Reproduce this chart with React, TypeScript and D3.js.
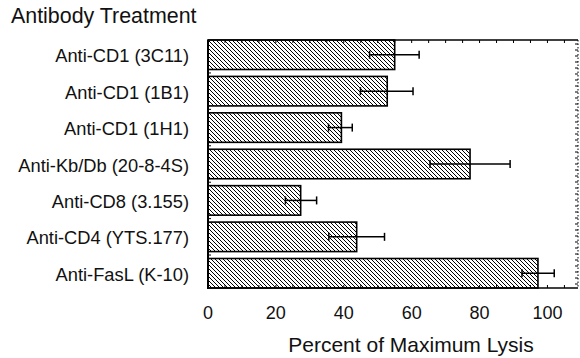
import React from "react";
import * as d3 from "d3";

const treatments = [
  "Anti-CD1 (3C11)",
  "Anti-CD1 (1B1)",
  "Anti-CD1 (1H1)",
  "Anti-Kb/Db (20-8-4S)",
  "Anti-CD8 (3.155)",
  "Anti-CD4 (YTS.177)",
  "Anti-FasL (K-10)",
];
const lysis = [55, 52.8, 39.3, 77.2, 27.3, 43.8, 97.2];
const errLow = [47.6, 44.9, 35.5, 65.4, 22.8, 35.6, 92.5];
const errHigh = [62.2, 60.4, 42.5, 89, 32, 52, 102];
const tickValues = [0, 20, 40, 60, 80, 100];

const W = 580;
const H = 358;
const left = 208;
const right = 578;
const top = 40;
const bottom = 288;
const font = "Arial, 'Liberation Sans', Helvetica, sans-serif";

export default function App() {
  const x = d3.scaleLinear().domain([0, 109]).range([left, right]);
  const y = d3.scaleBand<string>()
    .domain(treatments)
    .range([top, bottom])
    .paddingInner(0.19)
    .paddingOuter(0);
  const minor = d3.range(0, 110, 5);
  const rightTicks = d3.range(top + 4, bottom, 6);
  const bw = y.bandwidth();
  // separators between categories on the left axis
  const gaps = treatments.slice(1).map(t => y(t)! - (y.step() - bw) / 2);

  return (
    <svg width={W} height={H} style={{position: "absolute", left: 0, top: 0}}
      fontFamily={font}>
      <defs>
        <pattern id="hatch" width={4} height={4} patternUnits="userSpaceOnUse">
          <path d="M-1,-1 L5,5 M-1,3 L1,5 M3,-1 L5,1" stroke="#000" strokeWidth={1}/>
        </pattern>
      </defs>
      <rect width={W} height={H} fill="#fff"/>

      <text x={11} y={22.5} fontSize={21.4} fill="#111">Antibody Treatment</text>

      {/* frame */}
      <line x1={left} x2={left} y1={top} y2={bottom + 1} stroke="#000" strokeWidth={2}/>
      <line x1={left} x2={right} y1={top} y2={top} stroke="#000" strokeWidth={1.3}/>
      <line x1={left} x2={right} y1={bottom} y2={bottom} stroke="#000" strokeWidth={1.5}/>
      <line x1={right} x2={right} y1={top} y2={bottom} stroke="#000" strokeWidth={1}
        strokeDasharray="1.5,2"/>

      {/* ticks, pointing inward */}
      {minor.map(v => (
        <g key={v}>
          <line x1={x(v)} x2={x(v)} y1={top} y2={top + 3} stroke="#000" strokeWidth={1}/>
          <line x1={x(v)} x2={x(v)} y1={bottom} y2={bottom - 3} stroke="#000" strokeWidth={1}/>
        </g>
      ))}
      {rightTicks.map(v => (
        <line key={v} x1={right - 3} x2={right} y1={v} y2={v} stroke="#000" strokeWidth={1}/>
      ))}
      {gaps.map(g => (
        <line key={g} x1={left} x2={left + 3} y1={g} y2={g} stroke="#000" strokeWidth={1}/>
      ))}

      {/* bars */}
      {treatments.map((t, i) => {
        const cy = y(t)! + bw / 2;
        return (
          <g key={t}>
            <rect x={x(0)} y={y(t)} width={x(lysis[i]) - x(0)} height={bw}
              fill="url(#hatch)" stroke="#000" strokeWidth={1.6}/>
            <line x1={x(errLow[i])} x2={x(errHigh[i])} y1={cy} y2={cy}
              stroke="#000" strokeWidth={1.5}/>
            <line x1={x(errLow[i])} x2={x(errLow[i])} y1={cy - 4} y2={cy + 4}
              stroke="#000" strokeWidth={1.5}/>
            <line x1={x(errHigh[i])} x2={x(errHigh[i])} y1={cy - 4} y2={cy + 4}
              stroke="#000" strokeWidth={1.5}/>
            <text x={189} y={cy + 7.5} textAnchor="end" fontSize={18.3} fill="#111">{t}</text>
          </g>
        );
      })}

      {/* x axis labels */}
      {tickValues.map(v => (
        <text key={v} x={x(v)} y={319} textAnchor="middle" fontSize={18} fill="#111">{v}</text>
      ))}
      <text x={411} y={352} textAnchor="middle" fontSize={21} fill="#111">
        Percent of Maximum Lysis
      </text>
    </svg>
  );
}
